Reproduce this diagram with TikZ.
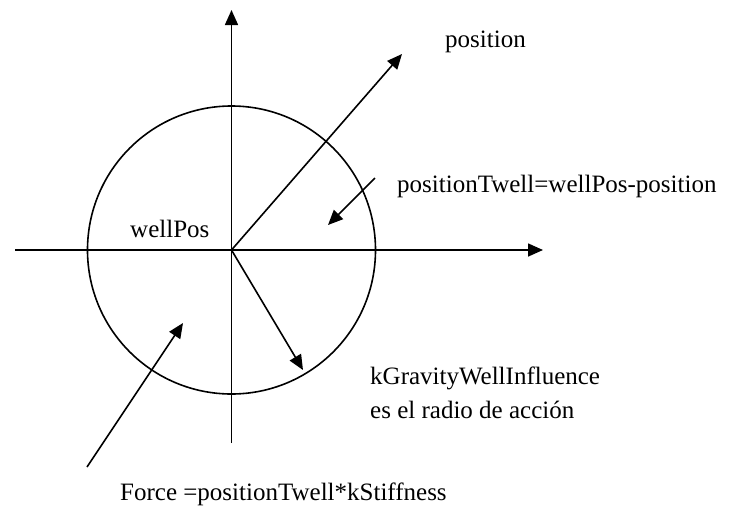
\documentclass[tikz,border=0pt]{standalone}
\usepackage{fontspec}
\setmainfont{Liberation Serif}
\usetikzlibrary{arrows.meta}
\begin{document}
\begin{tikzpicture}[x=1pt,y=-1pt,
  ln/.style={line width=1.6pt},
  arr/.style={ln,-{Triangle[length=15pt,width=13pt]}},
  lbl/.style={anchor=base west,inner sep=0pt,font=\fontsize{25}{30}\selectfont}]
\useasboundingbox (0,0) rectangle (741,507);
\coordinate (c) at (231.5,250);
\coordinate (xl) at (15,250);
\coordinate (xr) at (543,250);
\coordinate (yt) at (231.5,10);
\coordinate (yb) at (231.5,443);
\coordinate (p) at (402,54);
\coordinate (tws) at (375,178);
\coordinate (twe) at (328,225);
\coordinate (kr) at (303,370);
\coordinate (fs) at (87,467);
\coordinate (fe) at (183,323);
\draw[ln] (c) circle[radius=144];
\draw[arr] (xl) -- (xr);
\draw[arr] (yb) -- (yt);
\draw[arr] (c) -- (p);
\draw[arr] (tws) -- (twe);
\draw[arr] (c) -- (kr);
\draw[arr] (fs) -- (fe);
\node[lbl] (lpos) at (445,47) {position};
\node[lbl] (ltw) at (397,192) {positionTwell=wellPos-position};
\node[lbl] (lwp) at (130,237) {wellPos};
\node[lbl] (lkg) at (370,384) {kGravityWellInfluence};
\node[lbl] (les) at (370,418) {es el radio de acción};
\node[lbl] (lf) at (120,500) {Force =positionTwell*kStiffness};
\end{tikzpicture}
\end{document}
